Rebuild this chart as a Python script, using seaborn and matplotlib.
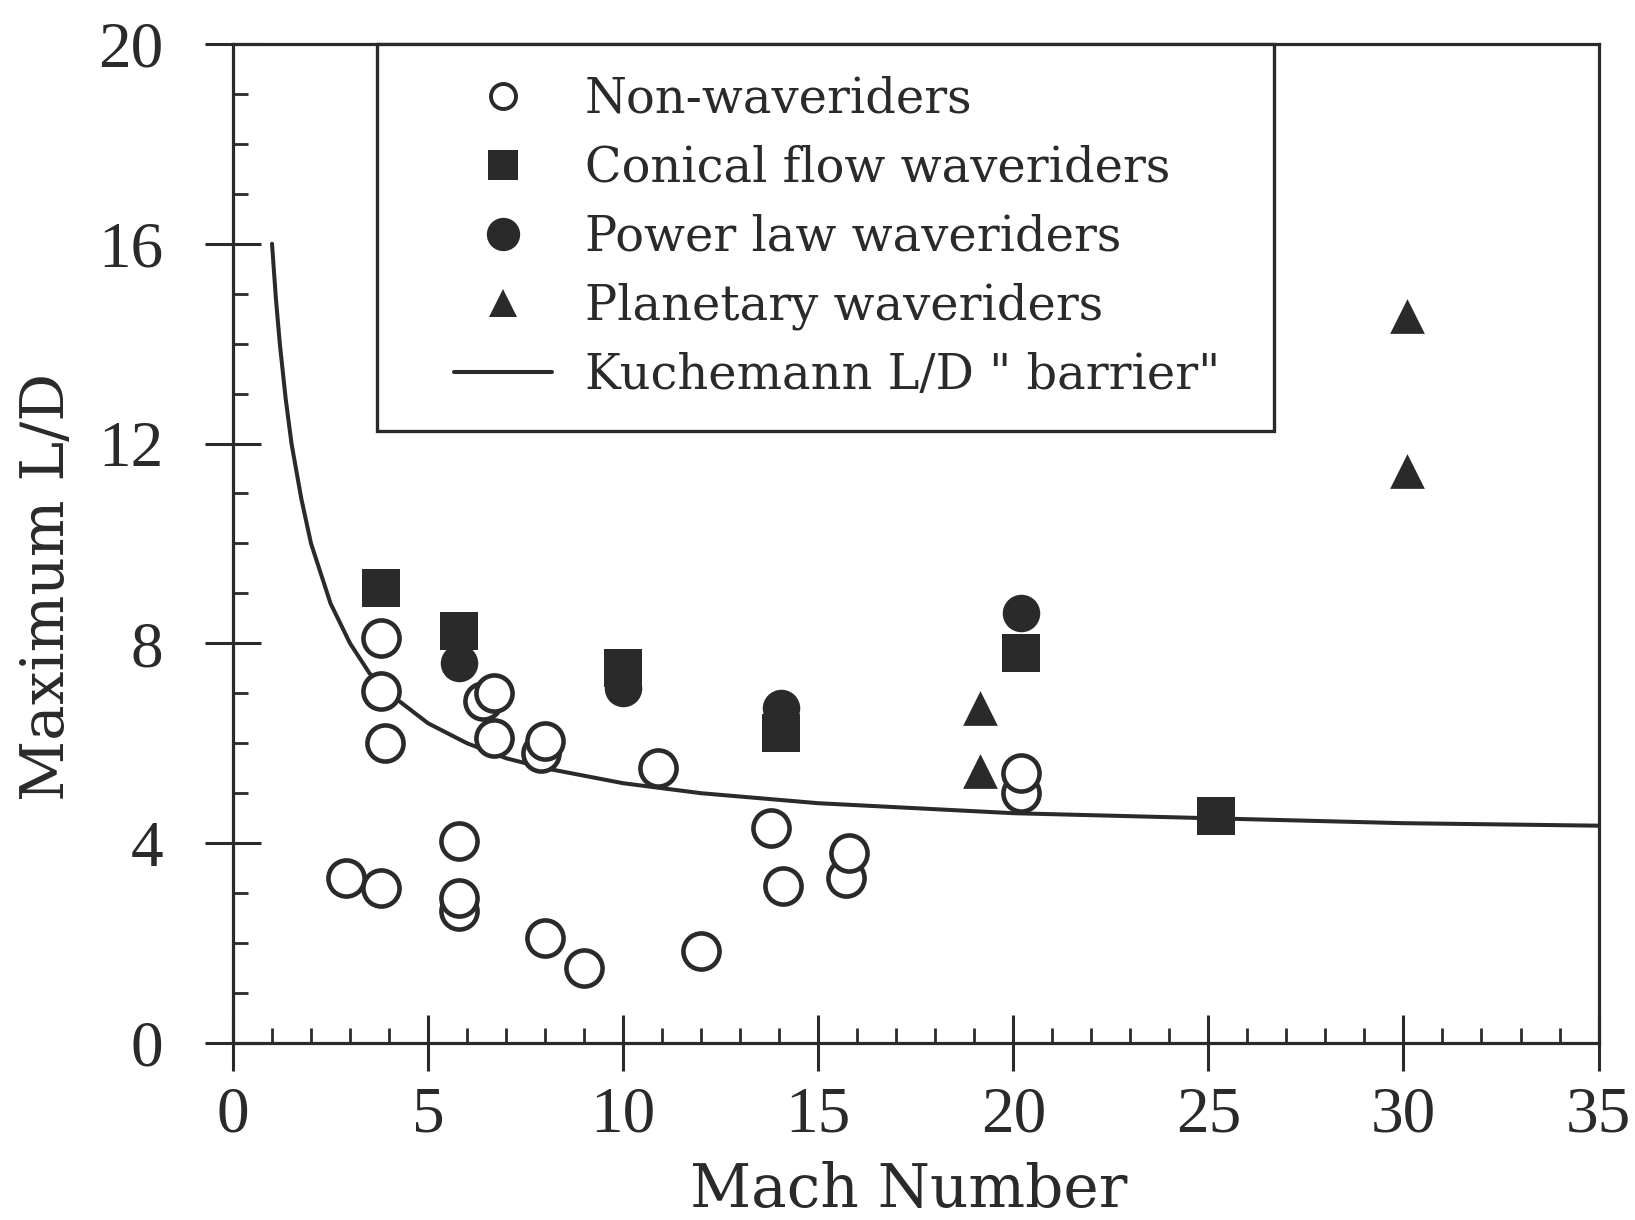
import numpy as np
import pandas as pd
import matplotlib
matplotlib.use("Agg")
import matplotlib.pyplot as plt
from matplotlib.lines import Line2D
from matplotlib.patches import Rectangle
from matplotlib.ticker import MultipleLocator
import seaborn as sns

# ---------------- data ----------------
nonwave_mach = [2.9, 3.8, 3.8, 3.8, 3.9, 5.8, 5.8, 5.8, 6.4, 6.7, 6.7, 7.9, 8.0,
                8.0, 9.0, 10.9, 12.0, 13.8, 14.1, 15.7, 15.8, 20.2, 20.2]
nonwave_ld = [3.3, 3.1, 8.1, 7.05, 6.0, 4.05, 2.65, 2.9, 6.85, 7.0, 6.1, 5.8, 6.05,
              2.1, 1.5, 5.5, 1.85, 4.3, 3.15, 3.3, 3.8, 5.0, 5.4]

conical_mach = [3.8, 5.8, 10.0, 14.05, 20.2, 25.2]
conical_ld = [9.1, 8.25, 7.5, 6.2, 7.8, 4.55]

powerlaw_mach = [5.8, 10.0, 14.05, 20.2]
powerlaw_ld = [7.6, 7.1, 6.7, 8.6]

planetary_mach = [19.15, 19.15, 30.1, 30.1]
planetary_ld = [6.7, 5.45, 14.55, 11.45]

barrier_mach = [1.0, 1.1, 1.2, 1.35, 1.5, 1.75, 2.0, 2.5, 3.0, 3.5, 4.0, 5.0, 6.0,
                7.0, 8.0, 10.0, 12.0, 15.0, 20.0, 25.0, 30.0, 35.0]
barrier_ld = [16.0, 14.9, 14.0, 12.9, 12.0, 10.9, 10.0, 8.8, 8.0, 7.4, 7.0, 6.4, 6.0,
              5.7, 5.5, 5.2, 5.0, 4.8, 4.6, 4.5, 4.4, 4.35]

legend_labels = ["Non-waveriders", "Conical flow waveriders", "Power law waveriders",
                 "Planetary waveriders", 'Kuchemann L/D " barrier"']
x_ticks = [0, 5, 10, 15, 20, 25, 30, 35]
y_ticks = [0, 4, 8, 12, 16, 20]

# ---------------- style ----------------
sns.set_style("ticks")
plt.rcParams["font.family"] = ["DejaVu Serif"]
INK = "#2a2a2a"

fig = plt.figure(figsize=(16.35, 12.2), dpi=100)
ax = fig.add_axes([0.1425, 0.1451, 0.8352, 0.8189])

sns.lineplot(x=barrier_mach, y=barrier_ld, ax=ax, color=INK, linewidth=2.9,
             estimator=None, sort=False, zorder=2)

sns.scatterplot(x=nonwave_mach, y=nonwave_ld, ax=ax, marker="o", s=26 ** 2,
                color="white", edgecolor=INK, linewidth=3.3, zorder=3)
sns.scatterplot(x=conical_mach, y=conical_ld, ax=ax, marker="s", s=27 ** 2,
                color=INK, edgecolor=INK, linewidth=0, zorder=4)
sns.scatterplot(x=powerlaw_mach, y=powerlaw_ld, ax=ax, marker="o", s=27 ** 2,
                color=INK, edgecolor=INK, linewidth=0, zorder=4)
sns.scatterplot(x=planetary_mach, y=planetary_ld, ax=ax, marker="^", s=25 ** 2,
                color=INK, edgecolor=INK, linewidth=0, zorder=4)

ax.set_xlim(0, 35)
ax.set_ylim(0, 20)
ax.set_xticks(x_ticks)
ax.set_yticks(y_ticks)
ax.xaxis.set_minor_locator(MultipleLocator(1))
ax.yaxis.set_minor_locator(MultipleLocator(1))

for s in ax.spines.values():
    s.set_visible(True)
    s.set_linewidth(2.3)
    s.set_color(INK)

ax.tick_params(which="major", direction="inout", length=40, width=2.2, color=INK,
               top=False, right=False)
ax.tick_params(which="minor", direction="in", length=11, width=2.0, color=INK,
               top=False, right=False)
ax.tick_params(axis="x", which="major", pad=11)
ax.tick_params(axis="y", which="major", pad=30)
for lab in ax.get_xticklabels() + ax.get_yticklabels():
    lab.set_fontfamily("Liberation Serif")
    lab.set_fontsize(47)
    lab.set_color(INK)

ax.set_xlabel("Mach Number", fontsize=43, color=INK)
ax.set_ylabel("Maximum L/D", fontsize=43, color=INK)
ax.xaxis.set_label_coords(0.495, -0.118)
ax.yaxis.set_label_coords(-0.115, 0.457)

# legend
handles = [
    Line2D([], [], linestyle="none", marker="o", markersize=18, markerfacecolor="white",
           markeredgecolor=INK, markeredgewidth=2.8),
    Line2D([], [], linestyle="none", marker="s", markersize=21, markerfacecolor=INK,
           markeredgecolor=INK, markeredgewidth=0),
    Line2D([], [], linestyle="none", marker="o", markersize=24, markerfacecolor=INK,
           markeredgecolor=INK, markeredgewidth=0),
    Line2D([], [], linestyle="none", marker="^", markersize=20, markerfacecolor=INK,
           markeredgecolor=INK, markeredgewidth=0),
    Line2D([], [], color=INK, linewidth=2.9),
]
leg = ax.legend(handles, legend_labels, loc="upper left", bbox_to_anchor=(0.1618, 0.968),
                frameon=False, fontsize=34.5, handlelength=2.05, handletextpad=0.675,
                labelspacing=0.455, borderpad=0, borderaxespad=0)
for t in leg.get_texts():
    t.set_color(INK)
leg.set_zorder(6)
ax.add_patch(Rectangle((0.1055, 0.613), 0.657, 0.387, transform=ax.transAxes,
                       facecolor="white", edgecolor=INK, linewidth=2.4, zorder=5,
                       clip_on=False))

fig.savefig("out.png", dpi=100, facecolor="white")
